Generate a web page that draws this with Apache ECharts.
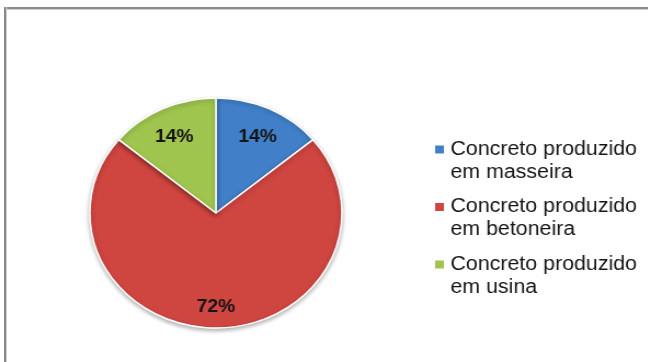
<!DOCTYPE html>
<html>
<head>
<meta charset="utf-8">
<script src="https://cdn.jsdelivr.net/npm/echarts@6/dist/echarts.min.js"></script>
<style>
  html, body { margin: 0; padding: 0; background: #ffffff; overflow: hidden; }
  #wrap { position: relative; width: 651px; height: 362px; overflow: hidden; background: #ffffff; }
  /* chart is drawn slightly narrower and widened horizontally */
  #chart { position: absolute; left: 0; top: 0; width: 594px; height: 362px;
           transform: scaleX(1.096); transform-origin: 0 0; }
  /* chart area frame: only its top and left edges fall inside the view */
  .edge { position: absolute; background: #8a8a8a; pointer-events: none; }
  #edgeTop { left: 4px; top: 7px; width: 644px; height: 2px; border-bottom: 1px solid #cfcfcf; }
  #edgeLeft { left: 4px; top: 7px; width: 2px; height: 355px; border-right: 1px solid #cfcfcf; }
</style>
</head>
<body>
<div id="wrap">
  <div id="chart"></div>
  <div class="edge" id="edgeTop"></div>
  <div class="edge" id="edgeLeft"></div>
</div>
<script>
// Origem do concreto utilizado (%)
const categories = [
  'Concreto produzido em masseira',
  'Concreto produzido em betoneira',
  'Concreto produzido em usina'
];
const values = [14, 72, 14];
const colors = ['#4180c9', '#cf4540', '#9fc54e'];

const pieData = categories.map((name, i) => ({
  name: name,
  value: values[i],
  itemStyle: { color: colors[i] }
}));

const center = [197, 213];
const radius = 115;

// legend swatch sits beside the first line of the two-line label
const legendIcon = 'path://M0,6.5H10V16.5H0Z M0,0L0.001,0 M0,46L0.001,46';

const chart = echarts.init(document.getElementById('chart'), null, { renderer: 'canvas' });
chart.setOption({
  animation: false,
  legend: {
    orient: 'vertical',
    left: 395,
    top: 137,
    padding: 0,
    itemWidth: 10,
    itemHeight: 46,
    itemGap: 9.5,
    icon: legendIcon,
    data: categories,
    formatter: name => name.replace(' em ', '\nem '),
    textStyle: {
      fontFamily: 'Liberation Sans, Arial, sans-serif',
      fontSize: 19.5,
      lineHeight: 23,
      color: '#151515'
    }
  },
  series: [
    {
      type: 'pie',
      center: center,
      radius: [0, radius],
      startAngle: 90,
      clockwise: true,
      silent: true,
      data: pieData,
      label: { show: false },
      labelLine: { show: false },
      itemStyle: {
        borderColor: '#ffffff',
        borderWidth: 1.5,
        shadowColor: 'rgba(0,0,0,0.3)',
        shadowBlur: 4,
        shadowOffsetY: 2
      }
    },
    {
      // transparent ring used only to place the percentage labels further out
      type: 'pie',
      center: [center[0], center[1] + 5],
      radius: [0, radius * 1.50],
      startAngle: 90,
      clockwise: true,
      silent: true,
      data: categories.map((name, i) => ({ name: name, value: values[i] })),
      itemStyle: { color: 'rgba(0,0,0,0)' },
      label: {
        show: true,
        position: 'inside',
        formatter: p => p.value + '%',
        fontFamily: 'Liberation Sans, Arial, sans-serif',
        fontWeight: 'bold',
        fontSize: 17.5,
        color: '#141414'
      },
      labelLine: { show: false },
      emphasis: { disabled: true }
    }
  ]
});
</script>
</body>
</html>
